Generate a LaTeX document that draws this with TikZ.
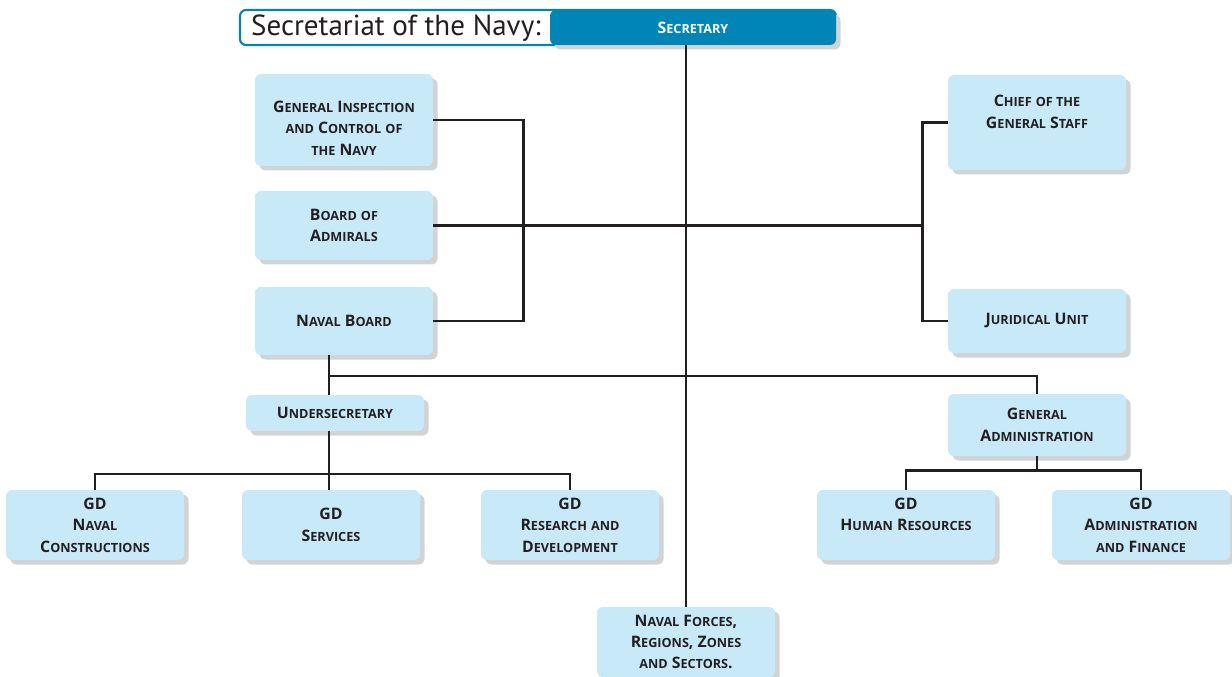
\documentclass[tikz,border=0pt]{standalone}
\usepackage{fontspec}
\setmainfont{PT Sans}
\newfontfamily\labelfont{Open Sans}
\usepackage{xcolor}
\usetikzlibrary{positioning,calc,shadows}

\definecolor{boxblue}{HTML}{C8E9F8}
\definecolor{navyblue}{HTML}{0085B8}
\definecolor{shade}{HTML}{D1D3D4}
\definecolor{ink}{HTML}{231F20}

% fake small caps: first letter large, rest small
\newcommand\smc[1]{{\fontsize{7.2}{8}\selectfont #1}}
\newcommand\capw[2]{#1\smc{#2}}

\begin{document}
\begin{tikzpicture}[
    unit/.style={fill=boxblue, rounded corners=0.12cm, minimum width=3.56cm, minimum height=1.4cm, align=center, text=ink,
      font=\labelfont\fontsize{9}{12.2}\selectfont\bfseries,
      drop shadow={shadow xshift=0.09cm, shadow yshift=-0.09cm, fill=shade, opacity=1}},
    head/.style={unit, fill=navyblue, text=white, minimum width=5.72cm, minimum height=0.7cm},
    link/.style={draw=ink, line width=1.4pt}
]
\useasboundingbox (0,0) rectangle (24.64,-13.54);

% title
\node[draw=navyblue, line width=1.2pt, rounded corners=0.12cm, minimum width=11.92cm, minimum height=0.7cm] (frame) at (10.76,-0.55) {};
\node[anchor=west, font=\fontsize{16.5}{20}\selectfont, text=ink] (title) at (4.9,-0.56) {Secretariat of the Navy:};
\node[head] (secy) at (13.86,-0.55) {\capw{S}{ECRETARY}};

% staff units
\node[unit, minimum height=1.84cm] (insp) at (6.88,-2.4) {\rule{0pt}{0.55cm}\capw{G}{ENERAL} \capw{I}{NSPECTION}\\\smc{AND} \capw{C}{ONTROL} \smc{OF}\\\smc{THE} \capw{N}{AVY}};
\node[unit, minimum height=1.38cm] (board) at (6.88,-4.51) {\capw{B}{OARD} \smc{OF}\\\capw{A}{DMIRALS}};
\node[unit, minimum height=1.36cm] (navboard) at (6.88,-6.42) {\capw{N}{AVAL} \capw{B}{OARD}};
\node[unit, minimum height=1.9cm] (chief) at (20.74,-2.45) {\capw{C}{HIEF} \smc{OF THE}\\\capw{G}{ENERAL} \capw{S}{TAFF}\\\phantom{G}};
\node[unit, minimum height=1.28cm] (jurid) at (20.74,-6.42) {\capw{J}{URIDICAL} \capw{U}{NIT}};

% second level
\node[unit, minimum height=0.72cm] (under) at (6.70,-8.26) {\capw{U}{NDERSECRETARY}};
\node[unit, minimum height=1.24cm] (genadm) at (20.74,-8.5) {\capw{G}{ENERAL}\\\capw{A}{DMINISTRATION}};

% general directorates
\node[unit] (gdnav) at (1.90,-10.5) {GD\\\capw{N}{AVAL}\\\capw{C}{ONSTRUCTIONS}};
\node[unit] (gdserv) at (6.62,-10.5) {GD\\\capw{S}{ERVICES}};
\node[unit] (gdrd) at (11.40,-10.5) {GD\\\capw{R}{ESEARCH} \smc{AND}\\\capw{D}{EVELOPMENT}};
\node[unit] (gdhr) at (18.12,-10.5) {GD\\\capw{H}{UMAN} \capw{R}{ESOURCES}\\\phantom{G}};
\node[unit] (gdaf) at (22.82,-10.5) {GD\\\capw{A}{DMINISTRATION}\\\smc{AND} \capw{F}{INANCE}};
\node[unit] (forces) at (13.72,-12.84) {\capw{N}{AVAL} \capw{F}{ORCES},\\\capw{R}{EGIONS}, \capw{Z}{ONES}\\\smc{AND} \capw{S}{ECTORS}.};

% bus points
\coordinate (rbus) at ($(chief.west)+(-0.5,0)$);
\coordinate (hbus) at (6.58,-7.52);
\coordinate (ubus) at (6.58,-9.48);
\coordinate (abus) at ($(genadm.south)+(0,-0.28)$);

% connectors
\draw[link] (forces.north |- secy.south) -- (forces.north);
\draw[link] (insp.east) -- ++(1.8,0) |- (navboard.east);
\draw[link] (board.east) -- (board.east -| rbus);
\draw[link] (chief.west) -- (rbus) |- (jurid.west);
\draw[link] (navboard.south -| hbus) -- (under.north -| hbus);
\draw[link] (hbus) -| (genadm.north);
\draw[link] (under.south -| hbus) -- (gdserv.north -| hbus);
\draw[link] (gdnav.north) |- (ubus) -| (gdrd.north);
\draw[link] (genadm.south) -- (abus);
\draw[link] (gdhr.north) |- (abus) -| (gdaf.north);
\end{tikzpicture}
\end{document}
